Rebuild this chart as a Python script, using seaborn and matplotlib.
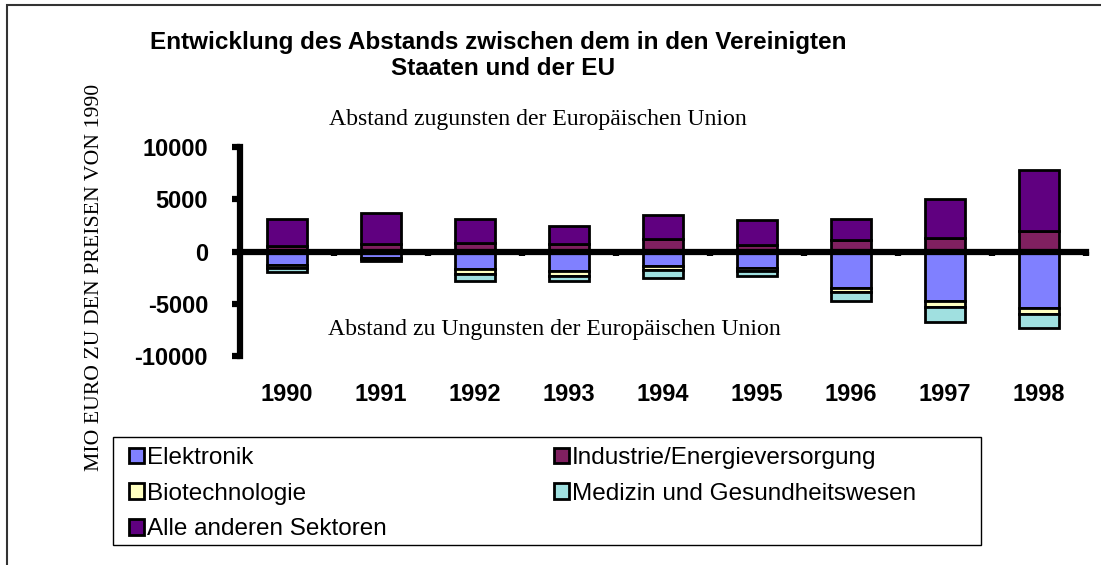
import matplotlib

matplotlib.use("Agg")

import matplotlib.pyplot as plt
import numpy as np
import seaborn as sns
from matplotlib.patches import Patch, Rectangle

years = ["1990", "1991", "1992", "1993", "1994", "1995", "1996", "1997", "1998"]

# positive side (zugunsten der EU)
industrie = [550, 750, 850, 700, 1200, 650, 1100, 1300, 2000]
andere = [2550, 2900, 2300, 1750, 2250, 2350, 2000, 3750, 5800]
# negative side (zu Ungunsten der EU)
elektronik = [-1300, -600, -1650, -1900, -1400, -1600, -3500, -4700, -5400]
biotech = [-250, -150, -500, -450, -400, -250, -400, -600, -550]
medizin = [-400, -200, -650, -450, -700, -500, -850, -1400, -1400]

yticks = [-10000, -5000, 0, 5000, 10000]

colors = {
    "Elektronik": "#8080FF",
    "Industrie/Energieversorgung": "#802060",
    "Biotechnologie": "#FFFFC0",
    "Medizin und Gesundheitswesen": "#A0E0E0",
    "Alle anderen Sektoren": "#600080",
}

sns.set_style("white")
plt.rcParams["font.family"] = ["Liberation Sans", "DejaVu Sans"]
plt.rcParams["text.color"] = "black"
plt.rcParams["xtick.color"] = "black"
plt.rcParams["ytick.color"] = "black"

W, H = 1101, 565
fig = plt.figure(figsize=(W / 100, H / 100), dpi=100)
ax = fig.add_axes([240 / W, 1 - 356 / H, 846 / W, (356 - 147) / H])


def stack(values, bottom, name):
    sns.barplot(
        x=years,
        y=values,
        bottom=bottom,
        color=colors[name],
        saturation=1,
        width=0.43,
        edgecolor="black",
        linewidth=2,
        ax=ax,
        zorder=3,
    )


zero = np.zeros(len(years))
ind = np.array(industrie)
ele = np.array(elektronik)
bio = np.array(biotech)
stack(industrie, zero, "Industrie/Energieversorgung")
stack(andere, ind, "Alle anderen Sektoren")
stack(elektronik, zero, "Elektronik")
stack(biotech, ele, "Biotechnologie")
stack(medizin, ele + bio, "Medizin und Gesundheitswesen")

ax.set_xlim(-0.5, len(years) - 0.5)
ax.set_ylim(-10000, 10000)
ax.set_xlabel("")
ax.set_ylabel("")

for s in ["top", "right"]:
    ax.spines[s].set_visible(False)
ax.spines["left"].set_linewidth(4.5)
ax.spines["left"].set_color("black")
ax.spines["left"].set_zorder(5)
ax.spines["bottom"].set_position(("data", 0))
ax.spines["bottom"].set_linewidth(4.5)
ax.spines["bottom"].set_color("black")
ax.spines["bottom"].set_zorder(5)

ax.set_yticks(yticks)
ax.set_yticklabels([str(t) for t in yticks], fontweight="bold", fontsize=17)
ax.tick_params(axis="y", direction="out", length=6, width=4.5, pad=17,
               left=True, color="black", labelcolor="black")

pos = np.arange(len(years))
ax.set_xticks(pos + 0.5)
ax.set_xticklabels([])
ax.set_xticks(pos, minor=True)
ax.set_xticklabels(years, minor=True, fontweight="bold", fontsize=17)
ax.tick_params(axis="x", which="major", direction="out", length=3, width=4.5,
               bottom=True, color="black")
ax.tick_params(axis="x", which="minor", length=0, pad=95, labelcolor="black")

fig.text(498 / W, 1 - 43 / H, "Entwicklung des Abstands zwischen dem in den Vereinigten",
         ha="center", va="center", fontweight="bold", fontsize=17.5)
fig.text(503 / W, 1 - 68 / H, "Staaten und der EU",
         ha="center", va="center", fontweight="bold", fontsize=17.5)

serif = ["Liberation Serif", "DejaVu Serif"]
fig.text(538 / W, 1 - 120 / H, "Abstand zugunsten der Europäischen Union",
         ha="center", va="center", family=serif, fontsize=17.1)
fig.text(328 / W, 1 - 330 / H, "Abstand zu Ungunsten der Europäischen Union",
         ha="left", va="center", family=serif, fontsize=17.1)
fig.text(95 / W, 1 - 277 / H, "MIO EURO ZU DEN PREISEN VON 1990",
         rotation=90, ha="center", va="center", family=serif, fontsize=15.7)

# legend: two columns drawn as two frameless legends inside one box
col1 = ["Elektronik", "Biotechnologie", "Alle anderen Sektoren"]
col2 = ["Industrie/Energieversorgung", "Medizin und Gesundheitswesen"]
leg_kw = dict(loc="upper left", frameon=False, borderpad=0, borderaxespad=0,
              handlelength=0.62, handleheight=0.62, handletextpad=0.12,
              labelspacing=0.56, fontsize=17.5)
for names, x0 in [(col1, 129), (col2, 554)]:
    handles = [Patch(facecolor=colors[n], edgecolor="black", linewidth=2) for n in names]
    fig.legend(handles, names, bbox_to_anchor=(x0 / W, 1 - 447 / H), **leg_kw)

fig.add_artist(Rectangle((113 / W, 1 - 545 / H), 868 / W, 108 / H,
                         transform=fig.transFigure, fill=False,
                         edgecolor="black", linewidth=1))
fig.add_artist(Rectangle((7 / W, -0.1), 2, 1 - 5 / H + 0.1,
                         transform=fig.transFigure, fill=False,
                         edgecolor="#333333", linewidth=1.5))

fig.savefig("out.png", dpi=100)
